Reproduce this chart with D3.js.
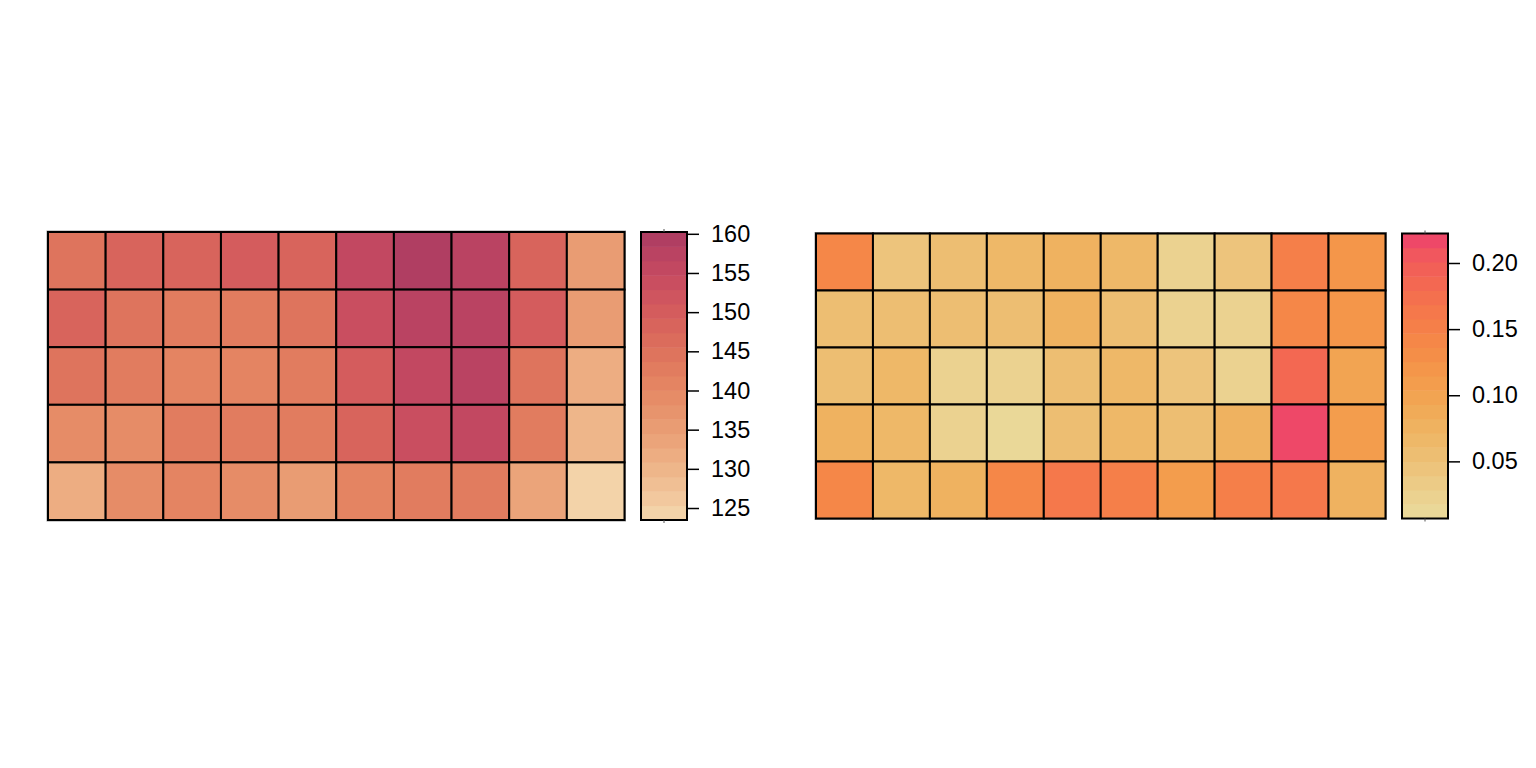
<!DOCTYPE html>
<html>

<head>
    <script src="https://d3js.org/d3.v7.min.js"></script>
    <style>
        body { margin: 0; background: #ffffff; }
        text { font-family: "Liberation Sans", Arial, Helvetica, sans-serif; }
    </style>
</head>

<body>
    <script>
        // Left field: 5 rows (top to bottom) x 10 columns
        var leftValues = [
            [145.0, 148.0, 148.0, 151.0, 148.0, 155.5, 160.0, 157.0, 148.0, 135.0],
            [148.0, 145.5, 143.0, 143.0, 145.5, 153.0, 158.0, 158.0, 151.0, 135.0],
            [144.0, 143.0, 141.0, 141.0, 143.0, 151.0, 156.0, 158.0, 145.5, 131.0],
            [139.0, 139.0, 143.0, 143.0, 143.0, 148.0, 153.0, 155.5, 142.0, 129.5],
            [131.0, 139.0, 141.0, 139.0, 136.0, 141.0, 143.0, 143.0, 133.0, 124.5]
        ];
        // Right field: 5 rows (top to bottom) x 10 columns
        var rightValues = [
            [0.140, 0.040, 0.055, 0.065, 0.080, 0.065, 0.025, 0.040, 0.150, 0.120],
            [0.055, 0.055, 0.055, 0.050, 0.080, 0.050, 0.025, 0.025, 0.140, 0.120],
            [0.050, 0.065, 0.025, 0.025, 0.050, 0.065, 0.040, 0.025, 0.180, 0.095],
            [0.080, 0.065, 0.025, 0.012, 0.050, 0.065, 0.050, 0.080, 0.215, 0.105],
            [0.140, 0.065, 0.080, 0.140, 0.165, 0.150, 0.105, 0.150, 0.160, 0.080]
        ];

        // colour bar limits and ticks
        var leftRange = [123.47, 160.23];
        var rightRange = [0.0068, 0.2223];
        var leftTicks = [125, 130, 135, 140, 145, 150, 155, 160];
        var rightTicks = [0.05, 0.10, 0.15, 0.20];

        // 20-step palettes, low to high
        var leftPalette = ["#F3D3A9", "#F2C89E", "#F0BF94", "#EEB68A", "#EDAD82", "#EBA47A", "#E99C73",
            "#E7946D", "#E68C67", "#E48462", "#E17C5F", "#DE745D", "#DB6C5C", "#D8645C", "#D45C5D",
            "#CF555F", "#C94E60", "#C24861", "#BA4362", "#B03E62"];
        var rightPalette = ["#EAD898", "#EBD290", "#ECCB86", "#EDC47C", "#EDBE72", "#EEB868", "#EFB260",
            "#F0AB58", "#F2A452", "#F39D4D", "#F4964A", "#F48E48", "#F58748", "#F57F49", "#F5784B",
            "#F4704E", "#F36852", "#F26057", "#F1575E", "#EE4868"];

        var width = 1536, height = 768;

        var svg = d3.select("body")
            .append("svg")
            .attr("width", width)
            .attr("height", height);

        function drawPanel(values, range, palette, ticks, fmt, box, bar) {
            var color = d3.scaleQuantize().domain(range).range(palette);
            var nRow = values.length, nCol = values[0].length;

            var x = d3.scaleBand().domain(d3.range(nCol)).range([box.x0, box.x1]);
            var y = d3.scaleBand().domain(d3.range(nRow)).range([box.y0, box.y1]);

            // plot frame
            svg.append("rect")
                .attr("x", box.x0 - 1).attr("y", box.y0 - 1)
                .attr("width", box.x1 - box.x0 + 2).attr("height", box.y1 - box.y0 + 2)
                .attr("fill", "none").attr("stroke", "#999").attr("stroke-width", 1);

            var cells = [];
            values.forEach(function (row, r) {
                row.forEach(function (v, c) { cells.push({ r: r, c: c, v: v }); });
            });

            svg.append("g").selectAll("rect")
                .data(cells)
                .enter()
                .append("rect")
                .attr("x", function (d) { return x(d.c); })
                .attr("y", function (d) { return y(d.r); })
                .attr("width", x.bandwidth())
                .attr("height", y.bandwidth())
                .attr("fill", function (d) { return color(d.v); })
                .attr("stroke", "#000")
                .attr("stroke-width", 2);

            // colour bar
            var ly = d3.scaleLinear().domain(range).range([bar.y1, bar.y0]);
            svg.append("g").selectAll("rect")
                .data(palette)
                .enter()
                .append("rect")
                .attr("x", bar.x0)
                .attr("width", bar.x1 - bar.x0)
                .attr("y", function (d) { return ly(color.invertExtent(d)[1]); })
                .attr("height", function (d) {
                    var e = color.invertExtent(d);
                    return ly(e[0]) - ly(e[1]) + 0.5;
                })
                .attr("fill", function (d) { return d; });

            svg.append("rect")
                .attr("x", bar.x0).attr("y", bar.y0)
                .attr("width", bar.x1 - bar.x0).attr("height", bar.y1 - bar.y0)
                .attr("fill", "none").attr("stroke", "#000").attr("stroke-width", 2);

            // little centre ticks of the bar's own x axis
            var cx = (bar.x0 + bar.x1) / 2;
            [[bar.y0 - 3, bar.y0], [bar.y1, bar.y1 + 3]].forEach(function (p) {
                svg.append("line")
                    .attr("x1", cx).attr("x2", cx).attr("y1", p[0]).attr("y2", p[1])
                    .attr("stroke", "#555").attr("stroke-width", 1);
            });

            var axis = d3.axisRight(ly)
                .tickValues(ticks)
                .tickSize(12)
                .tickPadding(12)
                .tickFormat(fmt);

            var g = svg.append("g")
                .attr("transform", "translate(" + bar.x1 + ",0)")
                .call(axis);
            g.select(".domain").remove();
            g.selectAll(".tick line").attr("stroke", "#000").attr("stroke-width", 1.5);
            g.selectAll(".tick text")
                .attr("fill", "#000")
                .style("font-size", "23.5px");
        }

        drawPanel(leftValues, leftRange, leftPalette, leftTicks, d3.format("d"),
            { x0: 48, x1: 624.5, y0: 232, y1: 520 },
            { x0: 641, x1: 687, y0: 232, y1: 520 });

        drawPanel(rightValues, rightRange, rightPalette, rightTicks, d3.format(".2f"),
            { x0: 816, x1: 1385.5, y0: 233.5, y1: 518.5 },
            { x0: 1402, x1: 1448, y0: 233.5, y1: 518.5 });
    </script>
</body>

</html>
